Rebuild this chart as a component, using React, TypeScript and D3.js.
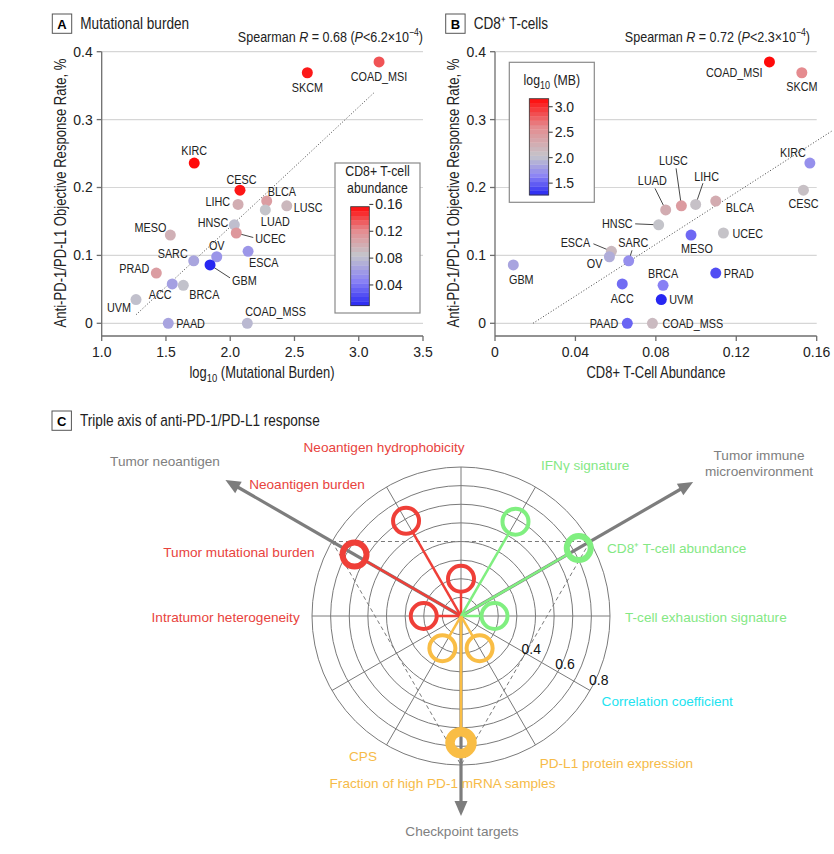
import React from "react";
import * as d3 from "d3";

// ---------- Data: panels A & B ----------
const cancers = ["SKCM","COAD_MSI","KIRC","CESC","BLCA","LIHC","LUSC","LUAD","HNSC","MESO","UCEC","ESCA","OV","SARC","GBM","PRAD","ACC","BRCA","UVM","PAAD","COAD_MSS"];
const logMB = [2.60,3.158,1.72,2.076,2.284,2.061,2.44,2.273,2.032,1.534,2.047,2.139,1.895,1.716,1.843,1.425,1.549,1.635,1.267,1.518,2.133];
const cd8 = [0.1526,0.1365,0.1566,0.1534,0.1098,0.0998,0.0927,0.0849,0.0814,0.0975,0.1136,0.0579,0.0569,0.0665,0.0091,0.1098,0.0633,0.0836,0.0827,0.0658,0.0783];
const orr = [0.369,0.385,0.236,0.196,0.18,0.175,0.173,0.167,0.145,0.13,0.133,0.106,0.098,0.092,0.086,0.074,0.058,0.056,0.035,0,0];

const xTicksA = [1.0,1.5,2.0,2.5,3.0,3.5];
const xTicksB = [0,0.04,0.08,0.12,0.16];
const yTicks = [0,0.1,0.2,0.3,0.4];
const legendTicksA = [0.04,0.08,0.12,0.16];
const legendTicksB = [1.5,2.0,2.5,3.0];

const fitA = { slope: 0.1766, intercept: -0.2112, from: 1.267, to: 3.127 };
const fitB = { slope: 1.905, intercept: -0.036, from: 0.0189, to: 0.168 };

// ---------- Data: panel C ----------
const factorNames = ["Neoantigen hydrophobicity","Neoantigen burden","Tumor mutational burden","Intratumor heterogeneity","IFNγ signature","CD8⁺ T-cell abundance","T-cell exhaustion signature","CPS","Fraction of high PD-1 mRNA samples","PD-L1 protein expression"];
const factorAngles = [90,120,150,180,60,30,0,240,270,300];
const factorCorr = [0.2,0.59,0.66,0.2,0.585,0.73,0.18,0.2,0.68,0.2];
const factorGroups = ["neo","neo","neo","neo","imm","imm","imm","chk","chk","chk"];
const factorEmphasis = [1,1,2,1,1,2,1,1,3,1];
const axisNames = ["Tumor neoantigen","Tumor immune microenvironment","Checkpoint targets"];
const axisAngles = [150,30,270];
const ringValues = [0.1,0.2,0.3,0.4,0.5,0.6,0.7,0.8];
const ringLabelValues = [0.4,0.6,0.8];

// ---------- Layout ----------
const SANS = "'Liberation Sans',Arial,sans-serif";
const GRID = "#d6d6d6";
const AX = "#6e6e6e";

// narrow text: Liberation Sans squeezed horizontally
function NT({ x, y, size, anchor = "start", fill = "#222", rotate = 0, dy, children }: any) {
  return (
    <text transform={`translate(${x},${y})${rotate ? ` rotate(${rotate})` : ""} scale(0.82,1)`} textAnchor={anchor}
      fontFamily={SANS} fontSize={size} fill={fill} dy={dy}>
      {children}
    </text>
  );
}

type LP = [number, number, string, number?, number?];
const labelA: Record<string, LP> = {
  SKCM: [0, 15, "middle"], COAD_MSI: [0, 14, "middle"], KIRC: [0, -13, "middle"], CESC: [1.5, -11, "middle"],
  BLCA: [1, -10, "start"], LIHC: [-8, -3, "end"], LUSC: [7, 2, "start"], LUAD: [10, 11, "middle"],
  HNSC: [-6, -2, "end"], MESO: [-4, -8, "end"], UCEC: [19, 5, "start", 17, 4.5], ESCA: [1, 11, "start"],
  OV: [0, -11, "middle"], SARC: [-6, -7, "end"], GBM: [22, 15, "start", 20, 13], PRAD: [-7, -5, "end"],
  ACC: [-12, 10, "middle"], BRCA: [6, 9, "start"], UVM: [-5, 8, "end"], PAAD: [8, 0, "start"], COAD_MSS: [-2, -12, "start"],
};
const labelB: Record<string, LP> = {
  COAD_MSI: [-7, 10, "end"], SKCM: [0, 14, "middle"], KIRC: [-17, -11, "middle"], CESC: [0, 13, "middle"],
  LUAD: [-13.4, -29.3, "middle", -10.7, -21.5], LUSC: [-8, -45, "middle", -5.3, -37.5], LIHC: [11, -28.3, "middle", 7.3, -21.3],
  BLCA: [10, 6, "start"], HNSC: [-26, -1, "end", -23.5, -1], MESO: [6, 13, "middle"], UCEC: [9, 0, "start"],
  ESCA: [-21.3, -9, "end", -18, -7.5], OV: [-7, 7, "end"], SARC: [4.6, -18.4, "middle", 3.3, -10.5],
  GBM: [8, 14, "middle"], PRAD: [8, 0, "start"], ACC: [0, 14, "middle"], BRCA: [0, -12, "middle"],
  UVM: [8, 0, "start"], PAAD: [-9, 0, "end"], COAD_MSS: [10, 0, "start"],
};

const yScale = d3.scaleLinear().domain([0, 0.4]).range([323.3, 51.7]);
const xA = d3.scaleLinear().domain([1, 3.5]).range([101.7, 423]);
const xB = d3.scaleLinear().domain([0, 0.16]).range([495, 816.7]);

function divergingScale(vals: number[]) {
  const ext = d3.extent(vals) as [number, number];
  const med = d3.median(vals) as number;
  return d3.scaleLinear<string>()
    .domain([ext[0], (ext[0] + med) / 2, med, (med + ext[1]) / 2, ext[1]])
    .range(["#2727f2", "#8c84f4", "#c4c4ca", "#e58c90", "#ff0a0a"])
    .interpolate(d3.interpolateRgb);
}
const colorA = divergingScale(cd8);
const colorB = divergingScale(logMB);

function Header({ x, y, letter, title }: { x: number; y: number; letter: string; title: string }) {
  return (
    <g>
      <rect x={x} y={y} width={19.4} height={19.3} fill="#fff" stroke="#555" strokeWidth={1} />
      <text x={x + 9.7} y={y + 14.5} textAnchor="middle" fontFamily={SANS} fontWeight="bold" fontSize={13}>{letter}</text>
      <NT x={x + 28} y={y + 14.8} size={16.6}>{title}</NT>
    </g>
  );
}

function Scatter({ xs, x, color, labels, ticks, tickFmt, fit, title, panelRight, yTitleX, spearman }: any) {
  const x0 = x.range()[0];
  const axisY = 336;
  return (
    <g>
      {yTicks.map((t: number) => (
        <line key={"g" + t} x1={x0} x2={panelRight} y1={yScale(t)} y2={yScale(t)} stroke={GRID} strokeWidth={1.2} />
      ))}
      <line x1={x0} x2={x0} y1={yScale(0.4)} y2={axisY} stroke={AX} strokeWidth={1.3} />
      <line x1={x0} x2={x.range()[1]} y1={axisY} y2={axisY} stroke={AX} strokeWidth={1.3} />
      {yTicks.map((t: number) => (
        <g key={"yt" + t}>
          <line x1={x0 - 5} x2={x0} y1={yScale(t)} y2={yScale(t)} stroke={AX} strokeWidth={1.3} />
          <text x={x0 - 9} y={yScale(t)} dy="0.35em" textAnchor="end" fontFamily={SANS} fontSize={14} fill="#222">{t === 0 ? "0" : d3.format(".1f")(t)}</text>
        </g>
      ))}
      {ticks.map((t: number) => (
        <g key={"xt" + t}>
          <line x1={x(t)} x2={x(t)} y1={axisY} y2={axisY + 5} stroke={AX} strokeWidth={1.3} />
          <text x={x(t)} y={356.5} textAnchor="middle" fontFamily={SANS} fontSize={14} fill="#222">{tickFmt(t)}</text>
        </g>
      ))}
      <NT x={yTitleX} y={193} rotate={-90} anchor="middle" dy="0.35em" size={16}>
        Anti-PD-1/PD-L1 Objective Response Rate, %
      </NT>
      {title}
      {spearman}
      <line x1={x(fit.from)} y1={yScale(fit.intercept + fit.slope * fit.from)} x2={x(fit.to)} y2={yScale(fit.intercept + fit.slope * fit.to)}
        stroke="#444" strokeWidth={1} strokeDasharray="1,2" />
      {cancers.map((c, i) => {
        const l = labels[c];
        if (l[3] === undefined) return null;
        return <line key={"ld" + c} x1={x(xs[i])} y1={yScale(orr[i])} x2={x(xs[i]) + (l[3] as number)} y2={yScale(orr[i]) + (l[4] as number)} stroke="#333" strokeWidth={0.9} />;
      })}
      {cancers.map((c, i) => (
        <circle key={"p" + c} cx={x(xs[i])} cy={yScale(orr[i])} r={5.5} fill={color(i)} />
      ))}
      {cancers.map((c, i) => {
        const l = labels[c];
        return (
          <NT key={"t" + c} x={x(xs[i]) + l[0]} y={yScale(orr[i]) + l[1]} dy="0.35em" anchor={l[2]} size={13.2}>{c}</NT>
        );
      })}
    </g>
  );
}

function ColorLegend({ box, bar, vals, scale, ticks, tickFmt, titleNode }: any) {
  const ext = d3.extent(vals as number[]) as [number, number];
  const ys = d3.scaleLinear().domain(ext).range([bar.y + bar.h, bar.y]);
  const n = 22;
  const step = (ext[1] - ext[0]) / n;
  const bands = d3.range(n).map((k) => ext[0] + step * k);
  return (
    <g>
      <rect x={box.x} y={box.y} width={box.w} height={box.h} fill="#fff" stroke="#8a8a8a" strokeWidth={1.2} />
      {titleNode}
      {bands.map((b, k) => (
        <rect key={k} x={bar.x} y={ys(b + step)} width={bar.w} height={ys(b) - ys(b + step) + 0.3} fill={scale(b + step / 2)} />
      ))}
      <rect x={bar.x} y={bar.y} width={bar.w} height={bar.h} fill="none" stroke="#333" strokeWidth={0.8} />
      {ticks.map((t: number) => (
        <g key={t}>
          <line x1={bar.x + bar.w} x2={bar.x + bar.w + 4} y1={ys(t)} y2={ys(t)} stroke="#333" strokeWidth={1} />
          <text x={bar.x + bar.w + 6} y={ys(t)} dy="0.35em" fontFamily={SANS} fontSize={14} fill="#222">{tickFmt(t)}</text>
        </g>
      ))}
    </g>
  );
}

// ---------- Panel C ----------
const cx = 461, cy = 616;
const rScale = d3.scaleLinear().domain([0, 0.8]).range([0, 149]);
const pol = (deg: number, r: number): [number, number] => {
  const a = (deg * Math.PI) / 180;
  return [cx + r * Math.cos(a), cy - r * Math.sin(a)];
};
const groupColor: Record<string, string> = { neo: "#ef3f38", imm: "#80ef80", chk: "#f9bd45" };
const groupText: Record<string, string> = { neo: "#e8433d", imm: "#84e884", chk: "#f6bb48" };
const markerStyle: Record<number, { r: number; sw: number }> = { 1: { r: 13, sw: 4 }, 2: { r: 12, sw: 6 }, 3: { r: 11, sw: 9.5 } };
const factorLabelPos: Record<string, [number, number, string]> = {
  "Neoantigen hydrophobicity": [-77, -168.7, "middle"],
  "Neoantigen burden": [-154, -132, "middle"],
  "Tumor mutational burden": [-146.3, -63.7, "end"],
  "Intratumor heterogeneity": [-161.3, 1.3, "end"],
  "IFNγ signature": [80, -151, "start"],
  "CD8⁺ T-cell abundance": [146, -67.7, "start"],
  "T-cell exhaustion signature": [164, 1, "start"],
  "CPS": [-98, 140.7, "middle"],
  "Fraction of high PD-1 mRNA samples": [-18.5, 167.3, "middle"],
  "PD-L1 protein expression": [78.7, 147.3, "start"],
};
const axisLength = [272, 268, 200];

function PanelC() {
  const tri = axisAngles.map((a) => pol(a, rScale(0.8)));
  return (
    <g>
      {ringValues.map((v) => (
        <circle key={"r" + v} cx={cx} cy={cy} r={rScale(v)} fill="none" stroke="#7a7a7a" strokeWidth={1} />
      ))}
      {d3.range(0, 360, 30).map((a) => {
        const [x2, y2] = pol(a, rScale(0.8));
        return <line key={"s" + a} x1={cx} y1={cy} x2={x2} y2={y2} stroke="#7a7a7a" strokeWidth={1} />;
      })}
      <polygon points={tri.map((p) => p.join(",")).join(" ")} fill="none" stroke="#7a7a7a" strokeWidth={1} strokeDasharray="4,3" />
      {axisAngles.map((a, i) => {
        const L = axisLength[i];
        const tip = pol(a, L);
        const base = pol(a, L - 15);
        const rad = (a * Math.PI) / 180;
        const px = Math.sin(rad) * 6.5, py = Math.cos(rad) * 6.5;
        const end = pol(a, L - 12);
        return (
          <g key={"ax" + i}>
            <line x1={cx} y1={cy} x2={end[0]} y2={end[1]} stroke="#7d7d7d" strokeWidth={3.2} />
            <polygon points={`${tip[0]},${tip[1]} ${base[0] + px},${base[1] + py} ${base[0] - px},${base[1] - py}`} fill="#7d7d7d" />
          </g>
        );
      })}
      {factorNames.map((n, i) => {
        const ms = markerStyle[factorEmphasis[i]];
        const e = pol(factorAngles[i], rScale(factorCorr[i]) - ms.r - ms.sw / 2 + 1);
        return <line key={"fl" + i} x1={cx} y1={cy} x2={e[0]} y2={e[1]} stroke={groupColor[factorGroups[i]]} strokeWidth={2.5} />;
      })}
      {factorNames.map((n, i) => {
        const ms = markerStyle[factorEmphasis[i]];
        const p = pol(factorAngles[i], rScale(factorCorr[i]));
        return <circle key={"fm" + i} cx={p[0]} cy={p[1]} r={ms.r} fill="none" stroke={groupColor[factorGroups[i]]} strokeWidth={ms.sw} />;
      })}
      {ringLabelValues.map((v) => {
        const p = pol(-25, rScale(v) + 3);
        return <text key={"rl" + v} x={p[0]} y={p[1]} dy="0.35em" textAnchor="middle" fontFamily={SANS} fontSize={14} fill="#111">{v}</text>;
      })}
      {factorNames.map((n, i) => {
        const lp = factorLabelPos[n];
        return <text key={"ft" + i} x={cx + lp[0]} y={cy + lp[1]} dy="0.35em" textAnchor={lp[2]} fontFamily={SANS} fontSize={13.6} fill={groupText[factorGroups[i]]}>{n}</text>;
      })}
      <text x={cx - 296} y={cy - 154.3} dy="0.35em" textAnchor="middle" fontFamily={SANS} fontSize={13.6} fill="#808080">{axisNames[0]}</text>
      <text x={cx + 298} y={cy - 161} dy="0.35em" textAnchor="middle" fontFamily={SANS} fontSize={13.6} fill="#808080">
        <tspan x={cx + 298}>Tumor immune</tspan>
        <tspan x={cx + 298} dy="16.7">microenvironment</tspan>
      </text>
      <text x={cx + 1} y={cy + 215.7} dy="0.35em" textAnchor="middle" fontFamily={SANS} fontSize={13.6} fill="#808080">{axisNames[2]}</text>
      <text x={cx + 140.6} y={cy + 85.7} dy="0.35em" fontFamily={SANS} fontSize={13.6} fill="#22e3f0">Correlation coefficient</text>
    </g>
  );
}

export default function App() {
  const spearA = (
    <NT x={423} y={42} anchor="end" size={15.3}>
      Spearman <tspan fontStyle="italic">R</tspan> = 0.68 (<tspan fontStyle="italic">P</tspan>{"<6.2×10"}<tspan dy="-6" fontSize={10.5}>−4</tspan><tspan dy="6">)</tspan>
    </NT>
  );
  const spearB = (
    <NT x={810} y={42} anchor="end" size={15.3}>
      Spearman <tspan fontStyle="italic">R</tspan> = 0.72 (<tspan fontStyle="italic">P</tspan>{"<2.3×10"}<tspan dy="-6" fontSize={10.5}>−4</tspan><tspan dy="6">)</tspan>
    </NT>
  );
  const titleA = (
    <NT x={262} y={378} anchor="middle" size={15.8}>
      log<tspan dy="4" fontSize={11.5}>10</tspan><tspan dy="-4"> (Mutational Burden)</tspan>
    </NT>
  );
  const titleB = (
    <NT x={656} y={378} anchor="middle" size={15.8}>CD8+ T-Cell Abundance</NT>
  );
  return (
    <svg width={834} height={854} style={{ position: "absolute", left: 0, top: 0, background: "#fff" }}>
      <rect width={834} height={854} fill="#fff" />
      <Header x={52.3} y={14} letter="A" title="Mutational burden" />
      <Header x={445.7} y={14} letter="B" title="CD8⁺ T-cells" />
      <Scatter xs={logMB} x={xA} color={(i: number) => colorA(cd8[i])} labels={labelA} ticks={xTicksA}
        tickFmt={d3.format(".1f")} fit={fitA} title={titleA} panelRight={423} yTitleX={60} spearman={spearA} />
      <Scatter xs={cd8} x={xB} color={(i: number) => colorB(logMB[i])} labels={labelB} ticks={xTicksB}
        tickFmt={(t: number) => (t === 0 ? "0" : d3.format(".2f")(t))} fit={fitB} title={titleB} panelRight={816.7} yTitleX={453} spearman={spearB} />
      <ColorLegend box={{ x: 335, y: 163, w: 85, h: 150 }} bar={{ x: 350.7, y: 206.7, w: 18.6, h: 99 }} vals={cd8} scale={colorA}
        ticks={legendTicksA} tickFmt={d3.format(".2f")}
        titleNode={<NT x={377.5} y={176} anchor="middle" size={15}><tspan x={0}>CD8+ T-cell</tspan><tspan x={0} dy="17">abundance</tspan></NT>} />
      <ColorLegend box={{ x: 509.3, y: 62.3, w: 85, h: 140 }} bar={{ x: 529.3, y: 98.7, w: 19.4, h: 96.3 }} vals={logMB} scale={colorB}
        ticks={legendTicksB} tickFmt={d3.format(".1f")}
        titleNode={<NT x={551.8} y={85} anchor="middle" size={15}>log<tspan dy="4" fontSize={11}>10</tspan><tspan dy="-4"> (MB)</tspan></NT>} />
      <Header x={52} y={411} letter="C" title="Triple axis of anti-PD-1/PD-L1 response" />
      <PanelC />
    </svg>
  );
}
